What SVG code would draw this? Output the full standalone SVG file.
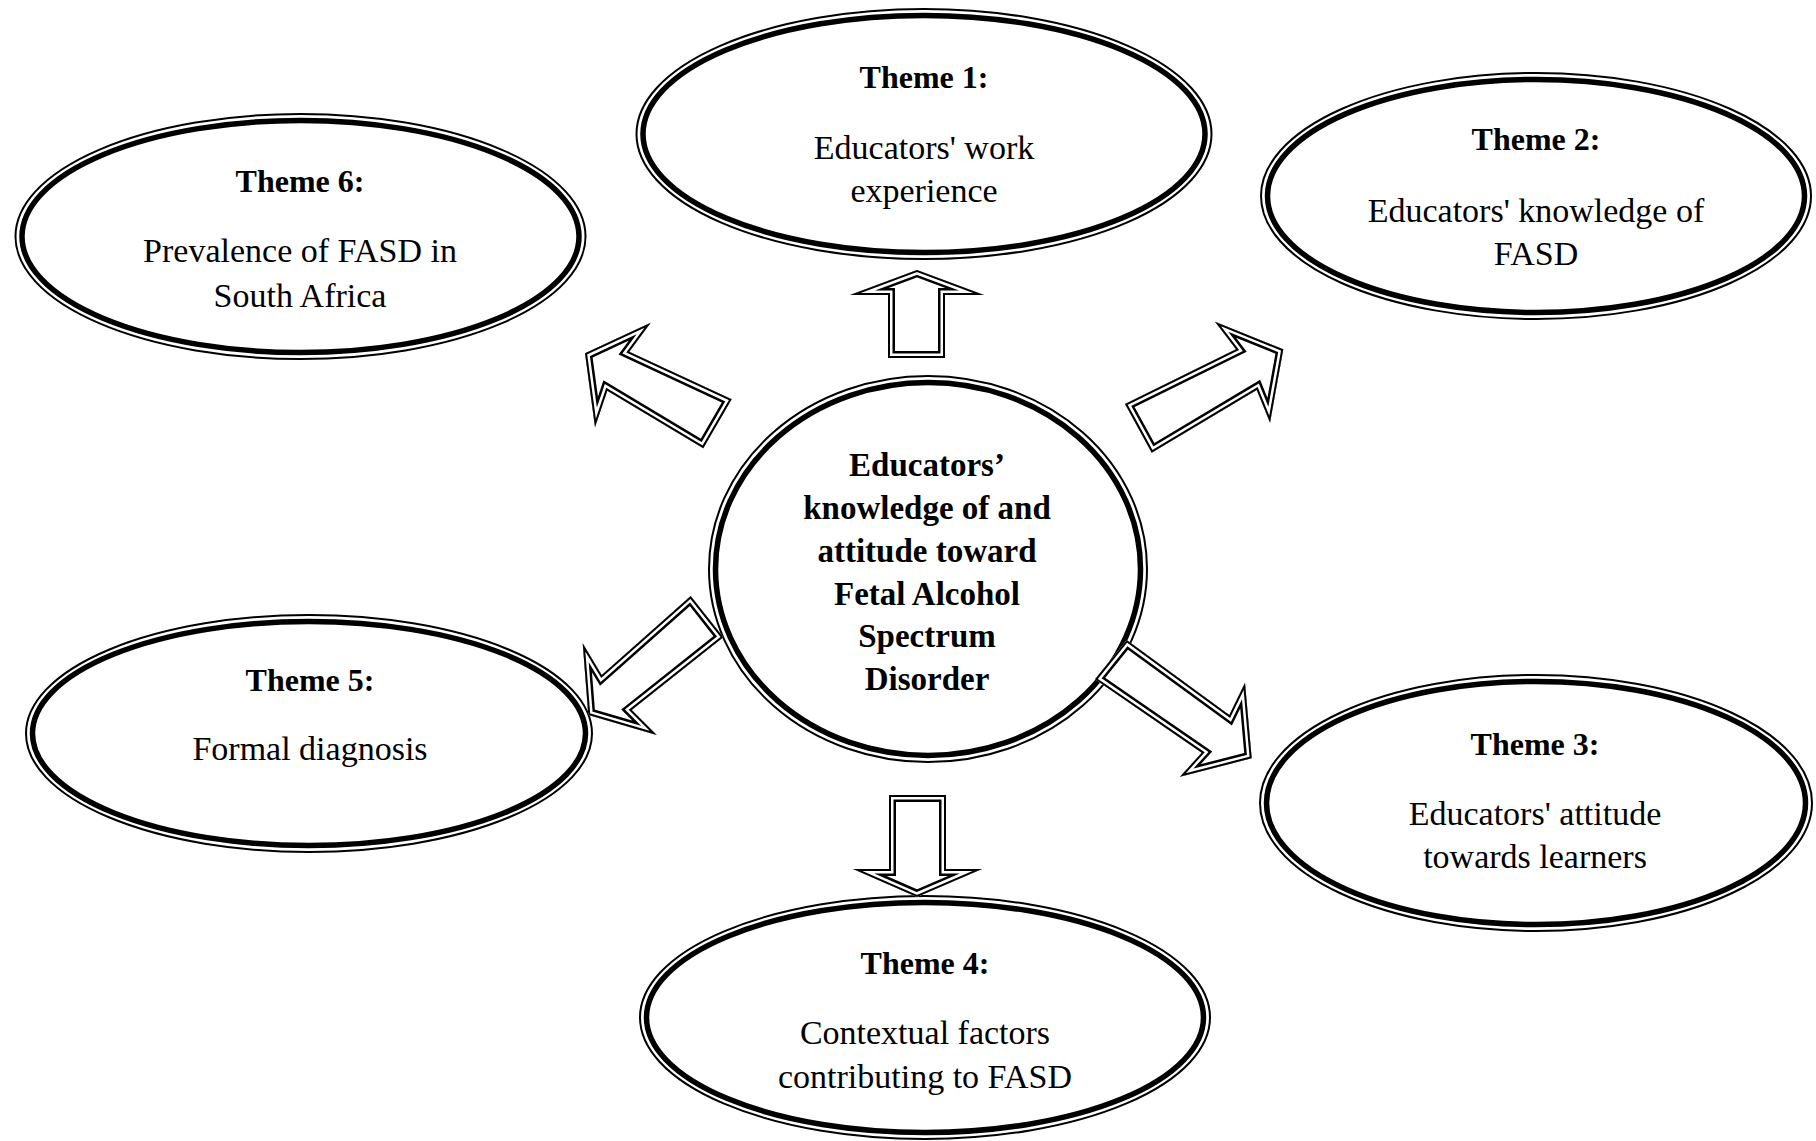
<svg xmlns="http://www.w3.org/2000/svg" xmlns:xlink="http://www.w3.org/1999/xlink" width="1816" height="1141" viewBox="0 0 1816 1141">
<style>
.thin{fill:#fff;stroke:#000;stroke-width:2}
.thick{fill:none;stroke:#000;stroke-width:5.5}
.ab1{fill:#fff;stroke:#000;stroke-width:14;stroke-linejoin:miter;stroke-miterlimit:30}
.aw{fill:none;stroke:#fff;stroke-width:9;stroke-linejoin:miter;stroke-miterlimit:30}
.ab2{fill:none;stroke:#000;stroke-width:4;stroke-linejoin:miter;stroke-miterlimit:30}
text{font-family:"Liberation Serif","Times New Roman",serif;fill:#000;text-anchor:middle}
.h{font-weight:bold;font-size:32px}
.b{font-weight:bold;font-size:33px}
.r{font-size:34px}
</style>
<defs>
<path id="pUp" d="M917,270 L984,295 L945,295 L945,358 L888,358 L888,295 L850,295 Z"/>
<path id="pDown" d="M889,795 L946,795 L946,869 L982,869 L917,897 L853,869 L889,869 Z"/>
<path id="p6" d="M585,353.3 L650.7,322.7 L629.3,351.7 L731.7,399.3 L703.3,448.3 L607.3,390.7 L595,427.3 Z"/>
<path id="p2" d="M1283.3,349.3 L1270,422.7 L1256.7,390 L1151.7,452.7 L1125,404 L1236,349.3 L1215,321.7 Z"/>
<path id="p5" d="M690.7,596 L723.3,637.3 L631.7,710 L656.7,735 L588.3,715 L582.7,643.3 L601.7,675 Z"/>
<path id="p3" d="M1126.7,640 L1229.3,715 L1245,682.7 L1251.7,758.3 L1180,776.7 L1201.7,752.7 L1095,679.3 Z"/>
<clipPath id="cUp"><use xlink:href="#pUp"/></clipPath>
<clipPath id="cDown"><use xlink:href="#pDown"/></clipPath>
<clipPath id="c6"><use xlink:href="#p6"/></clipPath>
<clipPath id="c2"><use xlink:href="#p2"/></clipPath>
<clipPath id="c5"><use xlink:href="#p5"/></clipPath>
<clipPath id="c3"><use xlink:href="#p3"/></clipPath>
</defs>
<rect width="1816" height="1141" fill="#fff"/>

<g id="theme1">
<ellipse class="thin" cx="924" cy="134" rx="287.5" ry="125"/>
<ellipse class="thick" cx="924" cy="134" rx="281" ry="118.5"/>
<text class="h" x="924" y="88">Theme 1:</text>
<text class="r" x="924" y="159">Educators' work</text>
<text class="r" x="924" y="202">experience</text>
</g>

<g id="theme2">
<ellipse class="thin" cx="1536" cy="196" rx="275" ry="123"/>
<ellipse class="thick" cx="1536" cy="196" rx="268.5" ry="116.5"/>
<text class="h" x="1536" y="150">Theme 2:</text>
<text class="r" x="1536" y="222">Educators' knowledge of</text>
<text class="r" x="1536" y="265">FASD</text>
</g>

<g id="theme6">
<ellipse class="thin" cx="300.5" cy="236.5" rx="285" ry="122.5"/>
<ellipse class="thick" cx="300.5" cy="236.5" rx="278.5" ry="116"/>
<text class="h" x="300" y="192">Theme 6:</text>
<text class="r" x="300" y="262">Prevalence of FASD in</text>
<text class="r" x="300" y="307">South Africa</text>
</g>

<g id="theme5">
<ellipse class="thin" cx="309" cy="733.5" rx="283" ry="118.5"/>
<ellipse class="thick" cx="309" cy="733.5" rx="276.5" ry="112"/>
<text class="h" x="310" y="691">Theme 5:</text>
<text class="r" x="310" y="760">Formal diagnosis</text>
</g>

<g id="theme3">
<ellipse class="thin" cx="1536" cy="803" rx="276" ry="128"/>
<ellipse class="thick" cx="1536" cy="803" rx="269.5" ry="121.5"/>
<text class="h" x="1535" y="755">Theme 3:</text>
<text class="r" x="1535" y="825">Educators' attitude</text>
<text class="r" x="1535" y="868">towards learners</text>
</g>

<g id="theme4">
<ellipse class="thin" cx="925" cy="1017.5" rx="285" ry="121.5"/>
<ellipse class="thick" cx="925" cy="1017.5" rx="278.5" ry="115"/>
<text class="h" x="925" y="974">Theme 4:</text>
<text class="r" x="925" y="1044">Contextual factors</text>
<text class="r" x="925" y="1088">contributing to FASD</text>
</g>

<g id="center">
<ellipse class="thin" cx="928" cy="569" rx="219" ry="193"/>
<ellipse class="thick" cx="928" cy="569" rx="212.5" ry="186.5"/>
<text class="b" x="927" y="476">Educators’</text>
<text class="b" x="927" y="519">knowledge of and</text>
<text class="b" x="927" y="562">attitude toward</text>
<text class="b" x="927" y="605">Fetal Alcohol</text>
<text class="b" x="927" y="647">Spectrum</text>
<text class="b" x="927" y="690">Disorder</text>
</g>

<g id="connectors">
<g clip-path="url(#cUp)"><use xlink:href="#pUp" class="ab1"/><use xlink:href="#pUp" class="aw"/><use xlink:href="#pUp" class="ab2"/></g>
<g clip-path="url(#cDown)"><use xlink:href="#pDown" class="ab1"/><use xlink:href="#pDown" class="aw"/><use xlink:href="#pDown" class="ab2"/></g>
<g clip-path="url(#c6)"><use xlink:href="#p6" class="ab1"/><use xlink:href="#p6" class="aw"/><use xlink:href="#p6" class="ab2"/></g>
<g clip-path="url(#c2)"><use xlink:href="#p2" class="ab1"/><use xlink:href="#p2" class="aw"/><use xlink:href="#p2" class="ab2"/></g>
<g clip-path="url(#c5)"><use xlink:href="#p5" class="ab1"/><use xlink:href="#p5" class="aw"/><use xlink:href="#p5" class="ab2"/></g>
<g clip-path="url(#c3)"><use xlink:href="#p3" class="ab1"/><use xlink:href="#p3" class="aw"/><use xlink:href="#p3" class="ab2"/></g>
</g>
</svg>
